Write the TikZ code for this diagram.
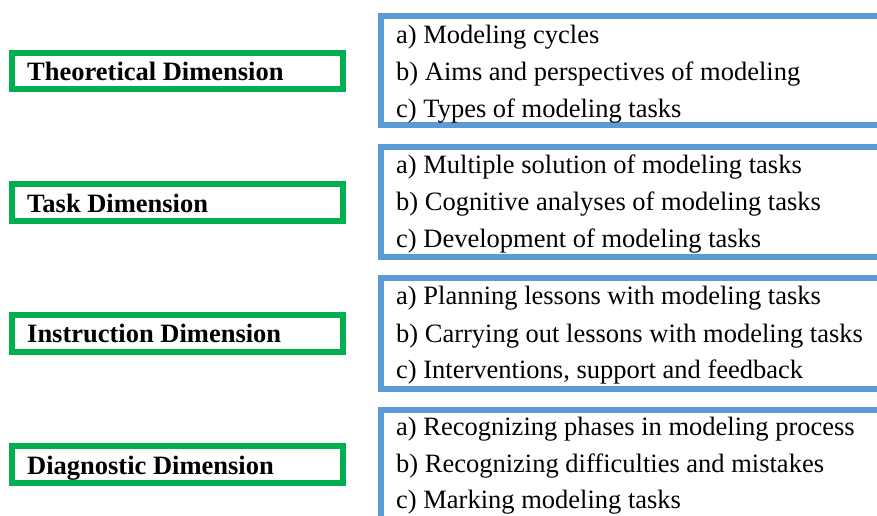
\documentclass[tikz,border=0pt]{standalone}
\usepackage{fontspec}
\setmainfont{Liberation Serif}
\definecolor{dimgreen}{HTML}{00B050}
\definecolor{itemblue}{HTML}{5B9BD5}
\begin{document}
\begin{tikzpicture}[x=1pt,y=-1pt,
  dimbox/.style={draw=dimgreen,line width=6pt},
  listbox/.style={draw=itemblue,line width=6pt},
  dimtext/.style={anchor=base west,inner sep=0pt,font=\fontsize{26.5}{32}\selectfont\bfseries},
  itemtext/.style={anchor=base west,inner sep=0pt,font=\fontsize{26.5}{32}\selectfont}]
\useasboundingbox (0,0) rectangle (877,515);
\clip (0,0) rectangle (877,515);
% green dimension boxes
\draw[dimbox] (12,53) rectangle (343,89);
\draw[dimbox] (12,184) rectangle (343,221);
\draw[dimbox] (12,315) rectangle (343,352);
\draw[dimbox] (12,446) rectangle (343,483);
\node[dimtext] (d1) at (27,80) {Theoretical Dimension};
\node[dimtext] (d2) at (27,212) {Task Dimension};
\node[dimtext] (d3) at (27,342) {Instruction Dimension};
\node[dimtext] (d4) at (27,474) {Diagnostic Dimension};
% blue item boxes
\draw[listbox] (381,16) rectangle (900,125);
\draw[listbox] (381,147) rectangle (900,257);
\draw[listbox] (381,278) rectangle (900,389);
\draw[listbox] (381,410) rectangle (900,540);
\node[itemtext] (t1a) at (396,43) {a) Modeling cycles};
\node[itemtext] (t1b) at (396,80) {b) Aims and perspectives of modeling};
\node[itemtext] (t1c) at (396,117) {c) Types of modeling tasks};
\node[itemtext] (t2a) at (396,173) {a) Multiple solution of modeling tasks};
\node[itemtext] (t2b) at (396,210) {b) Cognitive analyses of modeling tasks};
\node[itemtext] (t2c) at (396,247) {c) Development of modeling tasks};
\node[itemtext] (t3a) at (396,304) {a) Planning lessons with modeling tasks};
\node[itemtext] (t3b) at (396,342) {b) Carrying out lessons with modeling tasks};
\node[itemtext] (t3c) at (396,378) {c) Interventions, support and feedback};
\node[itemtext] (t4a) at (396,435) {a) Recognizing phases in modeling process};
\node[itemtext] (t4b) at (396,472) {b) Recognizing difficulties and mistakes};
\node[itemtext] (t4c) at (396,508) {c) Marking modeling tasks};
\end{tikzpicture}
\end{document}
